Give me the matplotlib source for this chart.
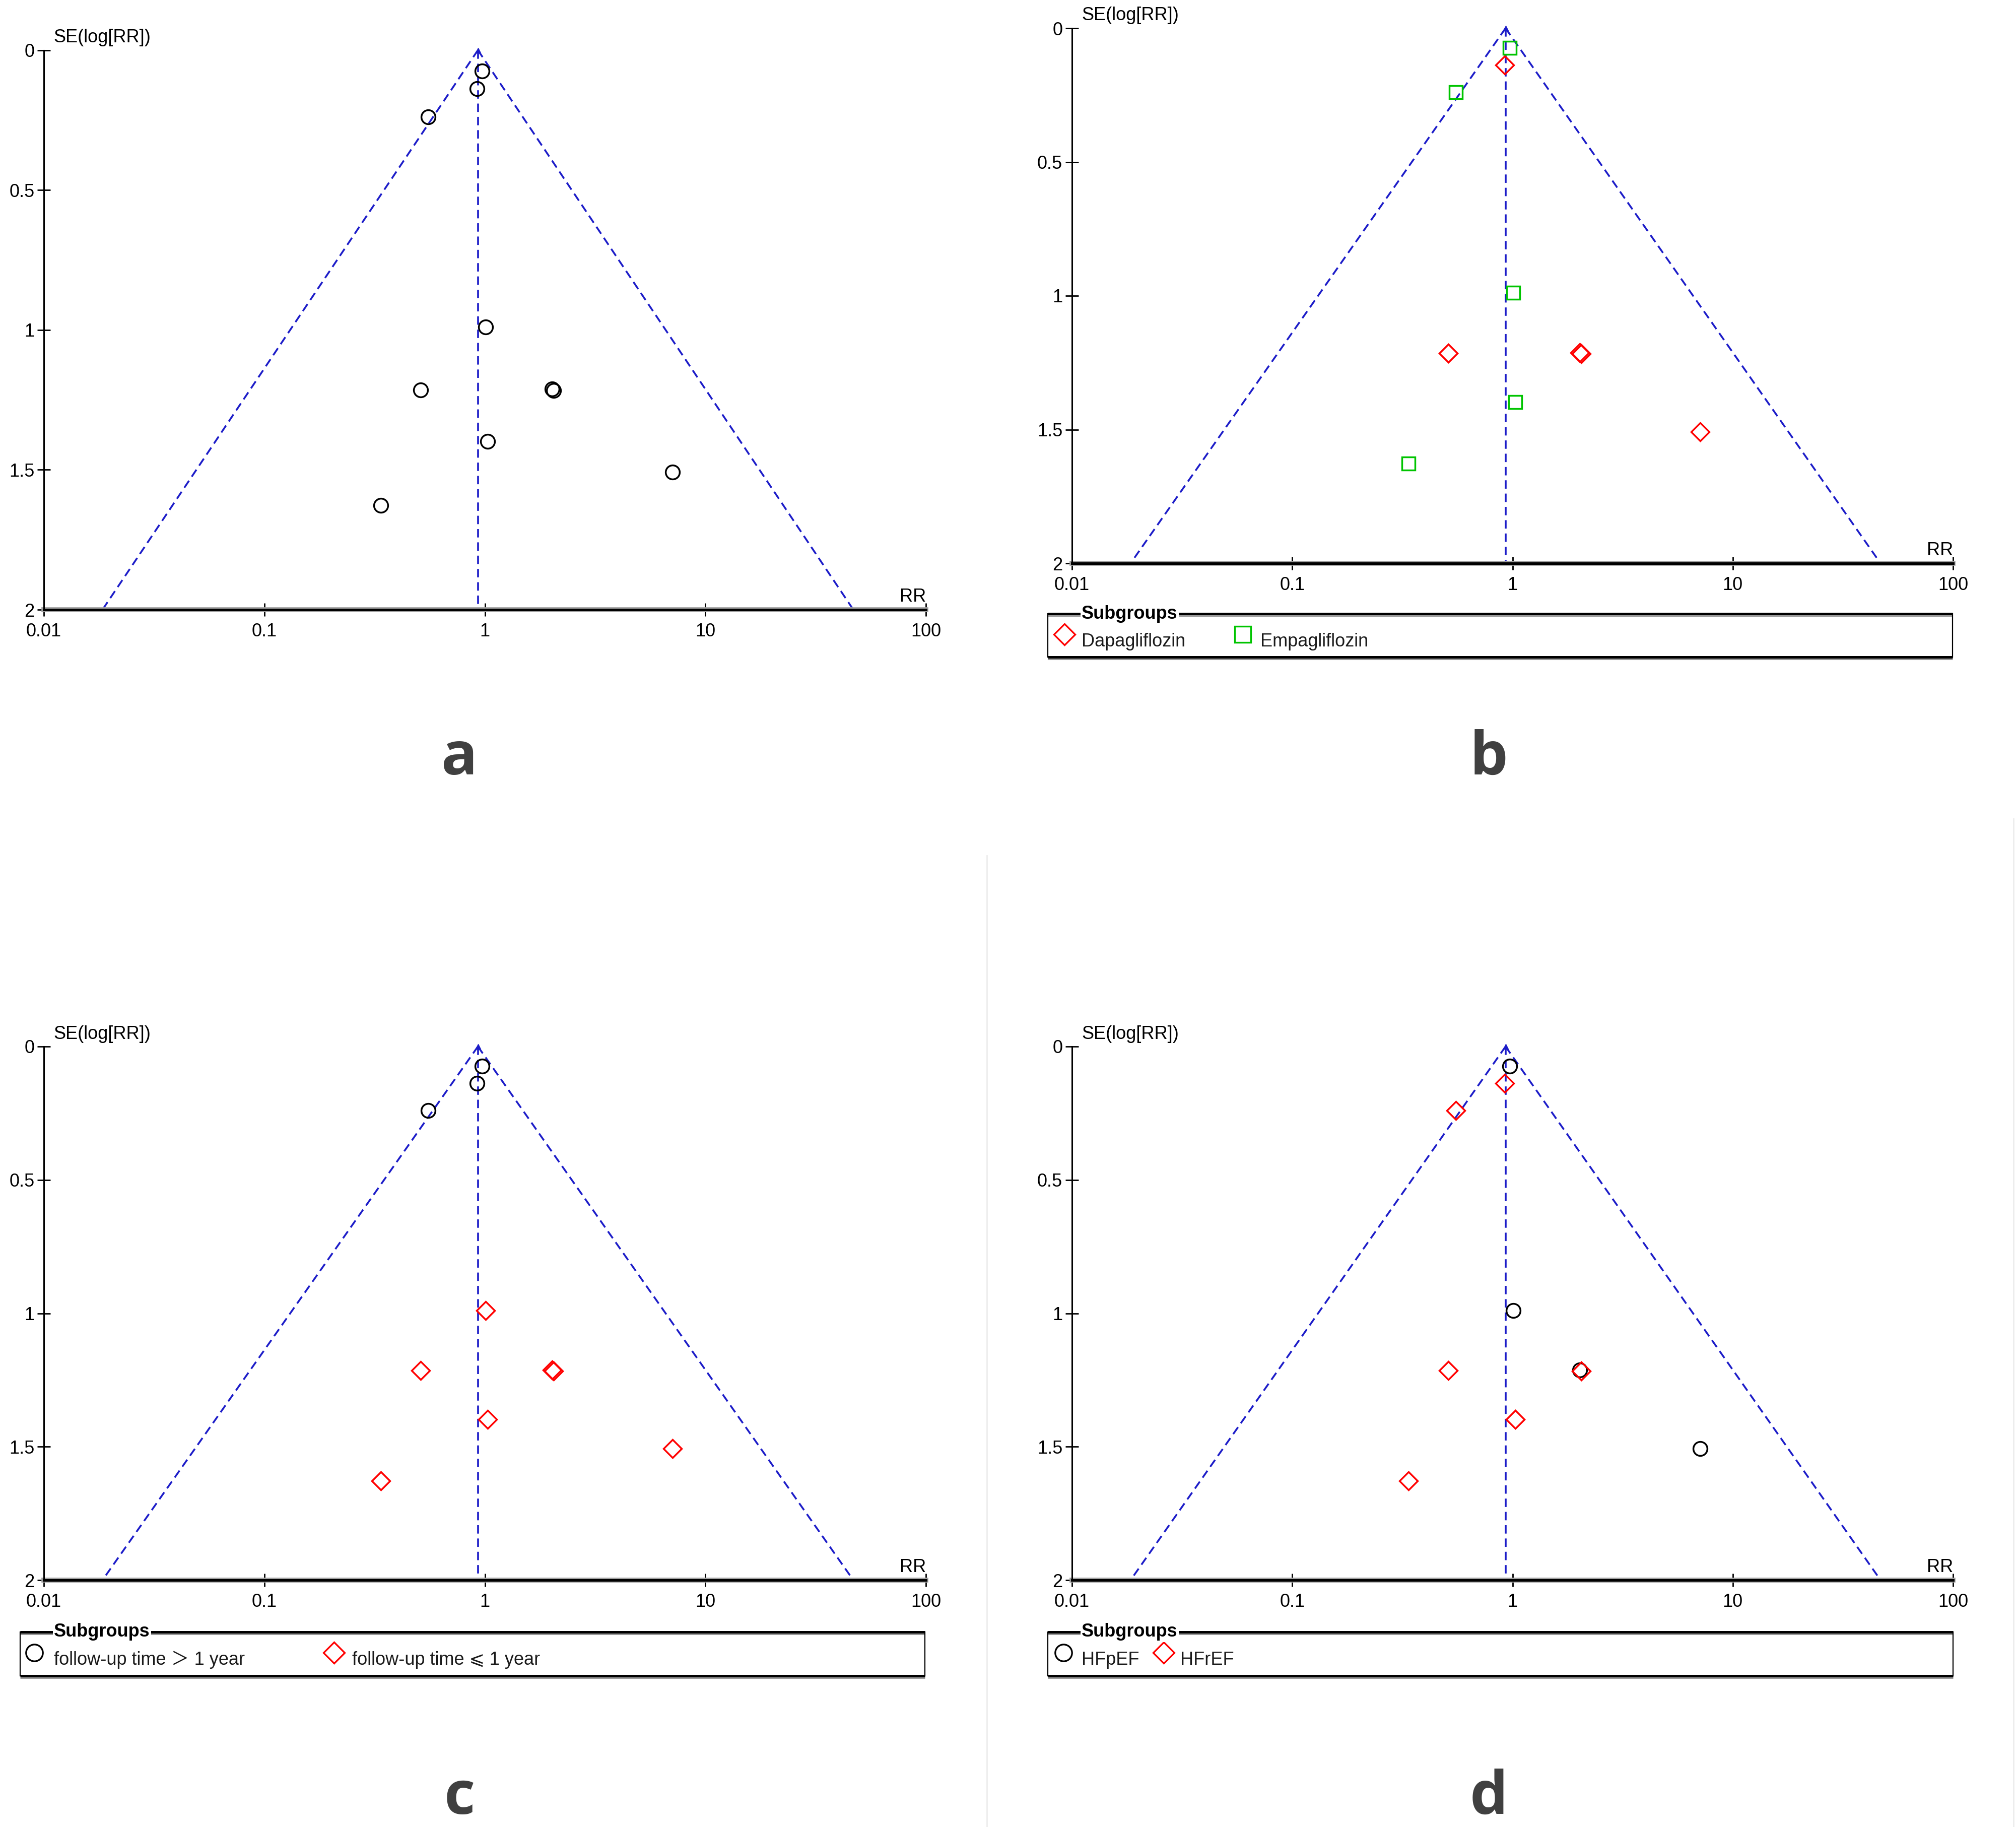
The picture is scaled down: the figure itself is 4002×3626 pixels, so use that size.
import numpy as np
import matplotlib
matplotlib.use("Agg")
import matplotlib.pyplot as plt
from matplotlib.lines import Line2D

# ---------------- data ----------------
rr = [0.973, 0.923, 0.554, 1.01, 0.511, 2.02, 2.05, 1.03, 7.10, 0.337]
se = [0.074, 0.138, 0.239, 0.989, 1.214, 1.212, 1.216, 1.398, 1.508, 1.628]
drug = ["Empagliflozin", "Dapagliflozin", "Empagliflozin", "Empagliflozin",
        "Dapagliflozin", "Dapagliflozin", "Dapagliflozin", "Empagliflozin",
        "Dapagliflozin", "Empagliflozin"]
followup = ["long", "long", "long", "short", "short", "short", "short",
            "short", "short", "short"]
hf_type = ["HFpEF", "HFrEF", "HFrEF", "HFpEF", "HFrEF", "HFpEF", "HFrEF",
           "HFrEF", "HFpEF", "HFrEF"]
pooled_rr = 0.93

x_ticks = [0.01, 0.1, 1, 10, 100]
x_tick_labels = ["0.01", "0.1", "1", "10", "100"]
y_ticks = [0, 0.5, 1, 1.5, 2]
y_tick_labels = ["0", "0.5", "1", "1.5", "2"]

panel_letters = ["a", "b", "c", "d"]
legend_title = "Subgroups"
drug_labels = ["Dapagliflozin", "Empagliflozin"]
followup_labels = ["follow-up time \uFF1E 1 year", "follow-up time \u2A7D 1 year"]
hf_labels = ["HFpEF", "HFrEF"]

# ---------------- style ----------------
W, H = 4002, 3626
DPI = 100
plt.rcParams["font.family"] = ["Liberation Sans", "DejaVu Sans", "Noto Sans CJK SC"]
plt.rcParams["lines.scale_dashes"] = False
FS = 26

BLUE = "#1c1cc8"
RED = "#ff0000"
GREEN = "#00c400"
BLACK = "#000000"

STYLE = {
    "circle": dict(marker="o", color=BLACK, ms=20),
    "diamond": dict(marker="D", color=RED, ms=18),
    "square": dict(marker="s", color=GREEN, ms=19),
}

fig = plt.figure(figsize=(W / DPI, H / DPI), dpi=DPI)


def fx(px):
    return px / W


def fy(py):
    return 1 - py / H


def draw_panel(left, right, top, bottom, groups):
    ax = fig.add_axes([fx(left), fy(bottom), fx(right - left), (bottom - top) / H])
    ax.set_xscale("log")
    ax.set_xlim(0.01, 100)
    ax.set_ylim(2, 0)
    # funnel
    s = np.linspace(0, 2, 50)
    lo = np.exp(np.log(pooled_rr) - 1.96 * s)
    hi = np.exp(np.log(pooled_rr) + 1.96 * s)
    kw = dict(color=BLUE, lw=2.6, dashes=(12, 7), zorder=1)
    ax.plot(lo, s, **kw)
    ax.plot(hi, s, **kw)
    ax.plot([pooled_rr, pooled_rr], [0, 2], **kw)
    ax.plot([pooled_rr], [0], marker="^", color=BLUE, ms=7, clip_on=False, zorder=1)
    # points
    for mask, st in groups:
        xs = [r for r, m in zip(rr, mask) if m]
        ys = [v for v, m in zip(se, mask) if m]
        ax.plot(xs, ys, ls="none", marker=st["marker"], ms=st["ms"],
                mfc="none", mec=st["color"], mew=2.5, zorder=3, clip_on=False)
    for sp in ["top", "right"]:
        ax.spines[sp].set_visible(False)
    ax.spines["left"].set_linewidth(2.2)
    ax.spines["bottom"].set_linewidth(3.6)
    ax.spines["bottom"].set_zorder(4)
    # grey shadow under the x axis line
    ax.axhline(2, color="#a0a0a0", lw=7, zorder=2, clip_on=False)
    ax.set_xticks(x_ticks)
    ax.set_xticklabels(x_tick_labels)
    ax.minorticks_off()
    ax.set_yticks(y_ticks)
    ax.set_yticklabels(y_tick_labels)
    ax.tick_params(axis="x", direction="inout", length=19, width=2.0, pad=9,
                   labelsize=FS)
    ax.tick_params(axis="y", direction="inout", length=19, width=2.0, pad=4,
                   labelsize=FS)
    ax.annotate("SE(log[RR])", xy=(0, 1), xycoords="axes fraction",
                xytext=(14, 18), textcoords="offset points", ha="left",
                va="center", fontsize=FS, annotation_clip=False)
    ax.annotate("RR", xy=(1, 0), xycoords="axes fraction",
                xytext=(0, 18), textcoords="offset points", ha="right",
                va="center", fontsize=FS, annotation_clip=False)
    ax.patch.set_alpha(0)
    return ax


def draw_legend(left, right, top, bottom, entries):
    lw_px = right - left
    lh_px = bottom - top
    lax = fig.add_axes([fx(left), fy(bottom), fx(lw_px), lh_px / H])
    lax.set_xlim(0, lw_px)
    lax.set_ylim(lh_px, 0)
    lax.axis("off")
    # frame: thick top/bottom with grey shadow, thin sides
    for y in (0, lh_px):
        lax.plot([0, lw_px], [y + 4, y + 4], color="#9a9a9a", lw=2.2,
                 solid_capstyle="butt", clip_on=False)
        lax.plot([0, lw_px], [y, y], color=BLACK, lw=3.6,
                 solid_capstyle="butt", clip_on=False)
    for x in (0, lw_px):
        lax.plot([x, x], [0, lh_px], color=BLACK, lw=1.6, clip_on=False)
    lax.text(67, 0, legend_title, fontsize=FS, fontweight="bold", ha="left",
             va="center", bbox=dict(facecolor="white", edgecolor="none", pad=1.5),
             zorder=5)
    for (mx, tx, label, st) in entries:
        lax.add_line(Line2D([mx], [41], ls="none", marker=st["marker"],
                            ms=st["ms"] * 1.2, mfc="none", mec=st["color"],
                            mew=2.4, clip_on=False))
        lax.text(tx, 65, label, fontsize=FS, ha="left", va="baseline",
                 color="#1a1a1a")
    return lax


ALL = [True] * len(rr)

# panel a
draw_panel(87, 1838, 99.5, 1210, [(ALL, STYLE["circle"])])

# panel b
draw_panel(2128, 3877, 56, 1118, [
    ([d == "Dapagliflozin" for d in drug], STYLE["diamond"]),
    ([d == "Empagliflozin" for d in drug], STYLE["square"]),
])
draw_legend(2080, 3876, 1218, 1304, [
    (33, 67, drug_labels[0], STYLE["diamond"]),
    (387, 422, drug_labels[1], STYLE["square"]),
])

# panel c
draw_panel(87, 1838, 2077, 3136, [
    ([f == "long" for f in followup], STYLE["circle"]),
    ([f == "short" for f in followup], STYLE["diamond"]),
])
draw_legend(40, 1836, 3239, 3326, [
    (28, 67, followup_labels[0], STYLE["circle"]),
    (623, 659, followup_labels[1], STYLE["diamond"]),
])

# panel d
draw_panel(2128, 3877, 2077, 3136, [
    ([h == "HFpEF" for h in hf_type], STYLE["circle"]),
    ([h == "HFrEF" for h in hf_type], STYLE["diamond"]),
])
draw_legend(2080, 3877, 3239, 3326, [
    (31, 67, hf_labels[0], STYLE["circle"]),
    (230, 263, hf_labels[1], STYLE["diamond"]),
])

# panel letters
letter_kw = dict(fontsize=86, fontweight="bold", color="#404040", ha="center",
                 va="baseline", family=["Open Sans", "DejaVu Sans"])
fig.text(fx(912), fy(1537), panel_letters[0], **letter_kw)
fig.text(fx(2955), fy(1537), panel_letters[1], **letter_kw)
fig.text(fx(912), fy(3600), panel_letters[2], **letter_kw)
fig.text(fx(2955), fy(3600), panel_letters[3], **letter_kw)

# faint separator lines
fig.add_artist(Line2D([fx(1959), fx(1959)], [0, fy(1698)], color="#ececec", lw=2))
fig.add_artist(Line2D([fx(3997), fx(3997)], [0, fy(1625)], color="#ececec", lw=2))

fig.savefig("out.png", dpi=DPI, facecolor="white")
